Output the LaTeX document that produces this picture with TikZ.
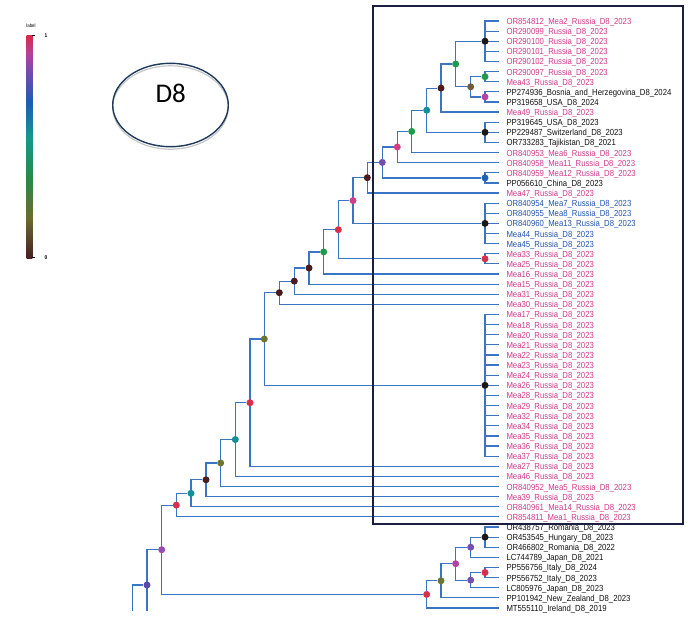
\documentclass[tikz,border=0pt]{standalone}
\usepackage{fontspec}
\newfontfamily\leaffont[FakeStretch=0.88]{Liberation Sans}
\newfontfamily\tagfont{Carlito}
\usetikzlibrary{shapes.geometric}
\pgfdeclarelayer{edges}
\pgfsetlayers{edges,main}

\definecolor{branchblue}{HTML}{3A74C4}
\definecolor{pk}{HTML}{D2388C}
\definecolor{bl}{HTML}{2254AE}
\definecolor{bk}{HTML}{111111}
\definecolor{boxnavy}{HTML}{1A1E40}
\definecolor{tagnavy}{HTML}{1F3A5A}
\definecolor{cBlack}{HTML}{1C1818}
\definecolor{cGreen}{HTML}{1E9A4C}
\definecolor{cBrOlive}{HTML}{705C36}
\definecolor{cOlive}{HTML}{6A7632}
\definecolor{cMag}{HTML}{B444A4}
\definecolor{cBrown}{HTML}{4A1C1E}
\definecolor{cTeal}{HTML}{128F98}
\definecolor{cPink}{HTML}{D23C88}
\definecolor{cPurple}{HTML}{7450AE}
\definecolor{cViolet}{HTML}{9A4CB0}
\definecolor{cIndigo}{HTML}{5A48A6}
\definecolor{cBlue}{HTML}{1F62B2}
\definecolor{cRed}{HTML}{D8304C}

\pgfdeclareverticalshading{labelbar}{100bp}{rgb(0bp)=(0.29,0.12,0.13); rgb(25bp)=(0.29,0.12,0.13);
  rgb(34bp)=(0.42,0.42,0.19); rgb(43bp)=(0.16,0.54,0.27); rgb(52bp)=(0.07,0.60,0.56);
  rgb(60bp)=(0.12,0.36,0.69); rgb(67bp)=(0.48,0.29,0.67); rgb(71bp)=(0.72,0.25,0.60);
  rgb(75bp)=(0.85,0.16,0.27); rgb(100bp)=(0.85,0.16,0.27)}

\begin{document}
\begin{tikzpicture}[x = 1pt, y = -1pt, % pixel units, y grows downward
                line cap = rect % square branch ends
            ]

            \tikzstyle{dot}=[circle, inner sep = 0pt, minimum size = 7pt]
            \tikzstyle{leaf}=[anchor = west, inner xsep = 7.5pt, inner ysep = 0pt,
            outer sep = 0pt, text height = 7pt, text depth = 0pt,
            font = \leaffont\fontsize{8.8}{9}\selectfont]
            \tikzstyle{branch}=[draw = branchblue, line width = 1.2pt]

            \useasboundingbox (0,0) rectangle (688,621);

            % colour scale
            \shade[shading = labelbar] (26.7,35) rectangle (32.3,258);
            \draw[bk, line width = 0.6pt] (32.3,35.3) -- (35,35.3) (32.3,257.7) -- (35,257.7);
            \node[font = \leaffont\fontsize{5}{5}\selectfont] (barname) at (31,26) {label};
            \node[font = \leaffont\bfseries\fontsize{5.5}{6}\selectfont] (barhi) at (46,36) {1};
            \node[font = \leaffont\bfseries\fontsize{5.5}{6}\selectfont] (barlo) at (46,258) {0};

            % genotype tag
            \draw[gray!45, line width = 1.2pt] (170.5,107.5) ellipse (57.8 and 41.7);
            \node[draw = tagnavy, line width = 1.4pt, ellipse, minimum width = 115.6pt,
            minimum height = 83.4pt, fill = none] (tag) at (170.5,105) {};
            \node[font = \tagfont\fontsize{27}{30}\selectfont] (tagtext) at (170.7,93) {D8};

            % leaves
            \foreach \nm/\cl [count=\i] in {
            OR854812\_Mea2\_Russia\_D8\_2023/pk, OR290099\_Russia\_D8\_2023/pk,
            OR290100\_Russia\_D8\_2023/pk, OR290101\_Russia\_D8\_2023/pk,
            OR290102\_Russia\_D8\_2023/pk, OR290097\_Russia\_D8\_2023/pk,
            Mea43\_Russia\_D8\_2023/pk, PP274936\_Bosnia\_and\_Herzegovina\_D8\_2024/bk,
            PP319658\_USA\_D8\_2024/bk, Mea49\_Russia\_D8\_2023/pk,
            PP319645\_USA\_D8\_2023/bk, PP229487\_Switzerland\_D8\_2023/bk,
            OR733283\_Tajikistan\_D8\_2021/bk, OR840953\_Mea6\_Russia\_D8\_2023/pk,
            OR840958\_Mea11\_Russia\_D8\_2023/pk, OR840959\_Mea12\_Russia\_D8\_2023/pk,
            PP056610\_China\_D8\_2023/bk, Mea47\_Russia\_D8\_2023/pk,
            OR840954\_Mea7\_Russia\_D8\_2023/bl, OR840955\_Mea8\_Russia\_D8\_2023/bl,
            OR840960\_Mea13\_Russia\_D8\_2023/bl, Mea44\_Russia\_D8\_2023/bl,
            Mea45\_Russia\_D8\_2023/bl, Mea33\_Russia\_D8\_2023/pk,
            Mea25\_Russia\_D8\_2023/pk, Mea16\_Russia\_D8\_2023/pk,
            Mea15\_Russia\_D8\_2023/pk, Mea31\_Russia\_D8\_2023/pk,
            Mea30\_Russia\_D8\_2023/pk, Mea17\_Russia\_D8\_2023/pk,
            Mea18\_Russia\_D8\_2023/pk, Mea20\_Russia\_D8\_2023/pk,
            Mea21\_Russia\_D8\_2023/pk, Mea22\_Russia\_D8\_2023/pk,
            Mea23\_Russia\_D8\_2023/pk, Mea24\_Russia\_D8\_2023/pk,
            Mea26\_Russia\_D8\_2023/pk, Mea28\_Russia\_D8\_2023/pk,
            Mea29\_Russia\_D8\_2023/pk, Mea32\_Russia\_D8\_2023/pk,
            Mea34\_Russia\_D8\_2023/pk, Mea35\_Russia\_D8\_2023/pk,
            Mea36\_Russia\_D8\_2023/pk, Mea37\_Russia\_D8\_2023/pk,
            Mea27\_Russia\_D8\_2023/pk, Mea46\_Russia\_D8\_2023/pk,
            OR840952\_Mea5\_Russia\_D8\_2023/pk, Mea39\_Russia\_D8\_2023/pk,
            OR840961\_Mea14\_Russia\_D8\_2023/pk, OR854811\_Mea1\_Russia\_D8\_2023/pk,
            OR438757\_Romania\_D8\_2023/bk, OR453545\_Hungary\_D8\_2023/bk,
            OR466802\_Romania\_D8\_2022/bk, LC744789\_Japan\_D8\_2021/bk,
            PP556756\_Italy\_D8\_2024/bk, PP556752\_Italy\_D8\_2023/bk,
            LC805976\_Japan\_D8\_2023/bk, PP101942\_New\_Zealand\_D8\_2023/bk,
            MT555110\_Ireland\_D8\_2019/bk}
            {\node[leaf, text = \cl] (l\i) at (499, {21+(\i-1)*10.12}) {\nm};}

            % internal nodes
            \node[dot, fill = cBlack] (a1) at (485,41.2) {};
            \node[dot, fill = cGreen] (a2) at (485,76.7) {};
            \node[dot, fill = cMag] (a3) at (485,96.9) {};
            \node[dot, fill = cBrOlive] (a4) at (470.7,86.8) {};
            \node[dot, fill = cGreen] (a5) at (455.7,64) {};
            \node[dot, fill = cBrown] (a6) at (441,88.1) {};
            \node[dot, fill = cBlack] (a7) at (485,132.3) {};
            \node[dot, fill = cTeal] (a8) at (426.7,110.2) {};
            \node[dot, fill = cGreen] (a9) at (411.7,131.4) {};
            \node[dot, fill = cPink] (a10) at (397.3,147) {};
            \node[dot, fill = cBlue] (a11) at (485,177.9) {};
            \node[dot, fill = cPurple] (a12) at (382.3,162.4) {};
            \node[dot, fill = cBrown] (a13) at (367.3,177.7) {};
            \node[dot, fill = cBlack] (a14) at (485,223.4) {};
            \node[dot, fill = cPink] (a15) at (353,200.6) {};
            \node[dot, fill = cRed] (a16) at (485,258.8) {};
            \node[dot, fill = cRed] (a17) at (338.3,229.7) {};
            \node[dot, fill = cGreen] (a18) at (323.7,251.9) {};
            \node[dot, fill = cBrown] (a19) at (309,268) {};
            \node[dot, fill = cBrown] (a20) at (294.3,281.1) {};
            \node[dot, fill = cBrown] (a21) at (279.3,292.7) {};
            \node[dot, fill = cBlack] (a22) at (485,385.3) {};
            \node[dot, fill = cOlive] (a23) at (264.3,339) {};
            \node[dot, fill = cRed] (a24) at (250,402.7) {};
            \node[dot, fill = cTeal] (a25) at (235.3,439.5) {};
            \node[dot, fill = cOlive] (a26) at (220.7,463) {};
            \node[dot, fill = cBrown] (a27) at (206,479.8) {};
            \node[dot, fill = cTeal] (a28) at (191,493.3) {};
            \node[dot, fill = cRed] (a29) at (176.3,505.1) {};
            \node[dot, fill = cBlack] (b1) at (485,537.1) {};
            \node[dot, fill = cPurple] (b2) at (470.7,547.2) {};
            \node[dot, fill = cRed] (b3) at (485,572.5) {};
            \node[dot, fill = cPurple] (b4) at (470.7,580.1) {};
            \node[dot, fill = cMag] (b5) at (455.7,563.7) {};
            \node[dot, fill = cOlive] (b6) at (441,580.8) {};
            \node[dot, fill = cRed] (b7) at (426.7,594.4) {};
            \node[dot, fill = cViolet] (a30) at (161.7,549.7) {};
            \node[dot, fill = cIndigo] (a31) at (147,585) {};
            \coordinate (cut) at (147,611);
            \coordinate (root) at (132.3,611);

            % branches
            \begin{pgfonlayer}{edges}
            \foreach \p/\c in {a1/l1, a1/l2, a1/l3, a1/l4, a1/l5, a2/l6, a2/l7, a3/l8, a3/l9,
            a4/a2, a4/a3, a5/a1, a5/a4, a6/a5, a6/l10, a7/l11, a7/l12, a7/l13, a8/a6, a8/a7,
            a9/a8, a9/l14, a10/a9, a10/l15, a11/l16, a11/l17, a12/a10, a12/a11, a13/a12,
            a13/l18, a14/l19, a14/l20, a14/l21, a14/l22, a14/l23, a15/a13, a15/a14,
            a16/l24, a16/l25, a17/a15, a17/a16, a18/a17, a18/l26, a19/a18, a19/l27,
            a20/a19, a20/l28, a21/a20, a21/l29, a23/a21, a23/a22, a24/a23, a24/l45,
            a25/a24, a25/l46, a26/a25, a26/l47, a27/a26, a27/l48, a28/a27, a28/l49,
            a29/a28, a29/l50, b1/l51, b1/l52, b1/l53, b2/b1, b2/l54, b3/l55, b3/l56,
            b4/b3, b4/l57, b5/b2, b5/b4, b6/b5, b6/l58, b7/b6, b7/l59, a30/a29, a30/b7,
            a31/a30, a31/cut}
            \draw[branch] (\p.center) |- (\c);
            \foreach \i in {30,...,44} \draw[branch] (a22.center) |- (l\i);
            \draw[branch] (root) |- (a31);
            \end{pgfonlayer}

            % study frame
            \draw[boxnavy, line width = 1.7pt] (373,6) rectangle (683,524);
        \end{tikzpicture}
\end{document}
